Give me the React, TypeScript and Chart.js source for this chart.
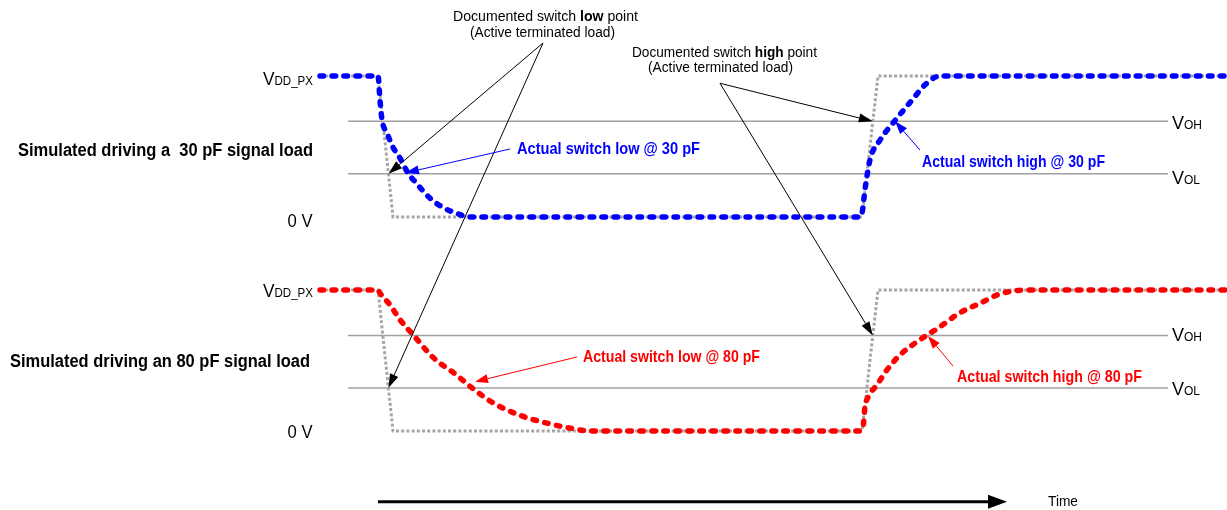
import React, { useEffect, useRef } from "react";
import { Chart, registerables } from "chart.js";

Chart.register(...registerables);

// ---- Voltage levels (V) ----
const VDD = 1.8;
const VOH = 1.22;
const VOL = 0.55;
const UPPER_OFFSET = 2.733; // vertical offset of the 30 pF panel on the shared axis

// ---- Documented (ideal) switching waveform ----
const DOC_T = [32, 37.8, 39.3, 86.2, 87.8, 122.7];
const DOC_V = [1.8, 1.8, 0, 0, 1.8, 1.8];

// ---- Simulated waveform, 30 pF load ----
const LOAD30_T = [32, 37.8, 38.0, 38.2, 38.7, 39.3, 40.0, 40.8, 41.5, 43.0, 44.3, 46.0, 46.7,
  85.9, 86.2, 86.5, 87.0, 88.0, 89.5, 91.0, 92.7, 94.0, 122.7];
const LOAD30_V = [1.8, 1.8, 1.49, 1.24, 1.07, 0.89, 0.75, 0.56, 0.45, 0.24, 0.12, 0.03, 0,
  0, 0.05, 0.35, 0.73, 0.98, 1.23, 1.46, 1.71, 1.8, 1.8];

// ---- Simulated waveform, 80 pF load ----
const LOAD80_T = [32, 37.8, 38.0, 39.0, 40.0, 41.3, 43.3, 45.7, 47.0, 49.3, 52.0, 54.7, 57.3, 59.0,
  85.9, 86.3, 86.5, 86.8, 87.7, 88.7, 90.0, 91.7, 94.0, 96.0, 98.0, 100.0, 102.7, 122.7];
const LOAD80_V = [1.8, 1.8, 1.76, 1.61, 1.42, 1.23, 0.94, 0.71, 0.57, 0.36, 0.20, 0.10, 0.03, 0,
  0, 0.05, 0.31, 0.43, 0.59, 0.78, 0.97, 1.14, 1.33, 1.51, 1.63, 1.75, 1.8, 1.8];

// ---- Threshold line extent (time) ----
const THRESH_T = [34.8, 116.8];

// ---- Time axis ----
const TIME_ARROW_T = [37.8, 100.7];

const FONT = '"Liberation Sans", Arial, sans-serif';

type Run = { text: string; size: number; bold?: boolean };
type Label = { t: number; v: number; align: "left" | "right" | "center"; width?: number; color: string; runs: Run[] };

const BLUE = "#0000ff";
const RED = "#ff0000";
const BLACK = "#000000";

const LABELS: Label[] = [
  { t: 31.3, v: 4.417, align: "right", width: 50, color: BLACK, runs: [{ text: "V", size: 18 }, { text: "DD_PX", size: 12 }] },
  { t: 31.3, v: 1.715, align: "right", width: 50, color: BLACK, runs: [{ text: "V", size: 18 }, { text: "DD_PX", size: 12 }] },
  { t: 31.25, v: 2.609, align: "right", width: 25, color: BLACK, runs: [{ text: "0 V", size: 18 }] },
  { t: 31.25, v: -0.093, align: "right", width: 25, color: BLACK, runs: [{ text: "0 V", size: 18 }] },
  { t: 117.2, v: 3.855, align: "left", width: 30, color: BLACK, runs: [{ text: "V", size: 18 }, { text: "OH", size: 12 }] },
  { t: 117.2, v: 3.153, align: "left", width: 28, color: BLACK, runs: [{ text: "V", size: 18 }, { text: "OL", size: 12 }] },
  { t: 117.2, v: 1.153, align: "left", width: 30, color: BLACK, runs: [{ text: "V", size: 18 }, { text: "OH", size: 12 }] },
  { t: 117.2, v: 0.46, align: "left", width: 28, color: BLACK, runs: [{ text: "V", size: 18 }, { text: "OL", size: 12 }] },
  { t: 31.3, v: 3.511, align: "right", width: 295, color: BLACK, runs: [{ text: "Simulated driving a  30 pF signal load", size: 18, bold: true }] },
  { t: 31.0, v: 0.813, align: "right", width: 300, color: BLACK, runs: [{ text: "Simulated driving an 80 pF signal load", size: 18, bold: true }] },
  { t: 54.55, v: 5.238, align: "center", width: 185, color: BLACK, runs: [{ text: "Documented switch ", size: 14 }, { text: "low", size: 14, bold: true }, { text: " point", size: 14 }] },
  { t: 54.25, v: 5.024, align: "center", width: 145, color: BLACK, runs: [{ text: "(Active terminated load)", size: 14 }] },
  { t: 72.45, v: 4.771, align: "center", width: 185, color: BLACK, runs: [{ text: "Documented switch ", size: 14 }, { text: "high", size: 14, bold: true }, { text: " point", size: 14 }] },
  { t: 72.05, v: 4.577, align: "center", width: 145, color: BLACK, runs: [{ text: "(Active terminated load)", size: 14 }] },
  { t: 51.7, v: 3.536, align: "left", width: 183, color: BLUE, runs: [{ text: "Actual switch low @ 30 pF", size: 17, bold: true }] },
  { t: 92.2, v: 3.366, align: "left", width: 183, color: BLUE, runs: [{ text: "Actual switch high @ 30 pF", size: 17, bold: true }] },
  { t: 58.3, v: 0.885, align: "left", width: 177, color: RED, runs: [{ text: "Actual switch low @ 80 pF", size: 17, bold: true }] },
  { t: 95.7, v: 0.629, align: "left", width: 185, color: RED, runs: [{ text: "Actual switch high @ 80 pF", size: 17, bold: true }] },
  { t: 104.8, v: -0.957, align: "left", width: 30, color: BLACK, runs: [{ text: "Time", size: 15 }] },
];

type Arrow = { from: [number, number]; to: [number, number]; color: string; lw: number; head: number; headW: number };

const ARROWS: Arrow[] = [
  { from: [54.3, 4.953], to: [38.84, VOL + UPPER_OFFSET], color: BLACK, lw: 1, head: 14, headW: 9 },
  { from: [54.3, 4.953], to: [38.84, VOL], color: BLACK, lw: 1, head: 14, headW: 9 },
  { from: [72.0, 4.439], to: [87.28, VOH + UPPER_OFFSET], color: BLACK, lw: 1, head: 14, headW: 9 },
  { from: [72.0, 4.439], to: [87.28, VOH], color: BLACK, lw: 1, head: 14, headW: 9 },
  { from: [51.0, 3.6], to: [40.5, 3.294], color: BLUE, lw: 1, head: 14, headW: 9 },
  { from: [92.0, 3.587], to: [89.5, VOH + UPPER_OFFSET], color: BLUE, lw: 1, head: 13, headW: 9 },
  { from: [57.7, 0.945], to: [47.5, 0.629], color: RED, lw: 1, head: 13, headW: 9 },
  { from: [95.3, 0.83], to: [92.8, 1.213], color: RED, lw: 1, head: 13, headW: 9 },
  { from: [TIME_ARROW_T[0], -0.903], to: [TIME_ARROW_T[1], -0.903], color: BLACK, lw: 3, head: 19, headW: 14 },
];

const pts = (ts: number[], vs: number[], off: number) => ts.map((t, i) => ({ x: t, y: vs[i] + off }));

function fontOf(r: Run) {
  return `${r.bold ? "bold " : ""}${r.size}px ${FONT}`;
}

function drawLabel(ctx: CanvasRenderingContext2D, x: number, y: number, l: Label) {
  ctx.save();
  let natural = 0;
  const ws: number[] = [];
  for (const r of l.runs) {
    ctx.font = fontOf(r);
    const w = ctx.measureText(r.text).width;
    ws.push(w);
    natural += w;
  }
  const sx = l.width ? l.width / natural : 1;
  const total = natural * sx;
  const x0 = l.align === "left" ? x : l.align === "right" ? x - total : x - total / 2;
  ctx.translate(x0, y);
  ctx.scale(sx, 1);
  ctx.fillStyle = l.color;
  ctx.textAlign = "left";
  ctx.textBaseline = "alphabetic";
  let cx = 0;
  l.runs.forEach((r, i) => {
    ctx.font = fontOf(r);
    ctx.fillText(r.text, cx, 0);
    cx += ws[i];
  });
  ctx.restore();
}

function drawArrow(ctx: CanvasRenderingContext2D, x1: number, y1: number, x2: number, y2: number, a: Arrow) {
  const ang = Math.atan2(y2 - y1, x2 - x1);
  const bx = x2 - a.head * Math.cos(ang);
  const by = y2 - a.head * Math.sin(ang);
  ctx.save();
  ctx.strokeStyle = a.color;
  ctx.fillStyle = a.color;
  ctx.lineWidth = a.lw;
  ctx.setLineDash([]);
  ctx.beginPath();
  ctx.moveTo(x1, y1);
  ctx.lineTo(bx, by);
  ctx.stroke();
  const px = -Math.sin(ang) * (a.headW / 2);
  const py = Math.cos(ang) * (a.headW / 2);
  ctx.beginPath();
  ctx.moveTo(x2, y2);
  ctx.lineTo(bx + px, by + py);
  ctx.lineTo(bx - px, by - py);
  ctx.closePath();
  ctx.fill();
  ctx.restore();
}

const annotationPlugin = {
  id: "annotations",
  afterDatasetsDraw(chart: any) {
    const ctx: CanvasRenderingContext2D = chart.ctx;
    const xs = chart.scales.x;
    const ys = chart.scales.y;
    for (const a of ARROWS) {
      drawArrow(
        ctx,
        xs.getPixelForValue(a.from[0]),
        ys.getPixelForValue(a.from[1]),
        xs.getPixelForValue(a.to[0]),
        ys.getPixelForValue(a.to[1]),
        a
      );
    }
    for (const l of LABELS) {
      drawLabel(ctx, xs.getPixelForValue(l.t), ys.getPixelForValue(l.v), l);
    }
  },
};

export default function App() {
  const ref = useRef<HTMLCanvasElement | null>(null);

  useEffect(() => {
    if (!ref.current) return;
    const threshStyle = {
      borderColor: "#a0a0a0",
      borderWidth: 1.5,
      pointRadius: 0,
      tension: 0,
      order: 3,
      clip: false as any,
    };
    const docStyle = {
      borderColor: "#a6a6a6",
      borderWidth: 3,
      borderDash: [3, 2.2],
      pointRadius: 0,
      tension: 0,
      order: 2,
      clip: false as any,
    };
    const simStyle = (color: string) => ({
      borderColor: color,
      borderWidth: 5.5,
      borderDash: [3.5, 8.5],
      borderCapStyle: "round" as const,
      borderJoinStyle: "round" as const,
      pointRadius: 0,
      cubicInterpolationMode: "monotone" as const,
      order: 1,
      clip: false as any,
    });
    const thresh = (v: number, off: number) => THRESH_T.map((t) => ({ x: t, y: v + off }));

    const chart = new Chart(ref.current, {
      type: "line",
      data: {
        datasets: [
          { label: "Actual 30 pF", data: pts(LOAD30_T, LOAD30_V, UPPER_OFFSET), ...simStyle(BLUE) },
          { label: "Actual 80 pF", data: pts(LOAD80_T, LOAD80_V, 0), ...simStyle(RED) },
          { label: "Documented (30 pF panel)", data: pts(DOC_T, DOC_V, UPPER_OFFSET), ...docStyle },
          { label: "Documented (80 pF panel)", data: pts(DOC_T, DOC_V, 0), ...docStyle },
          { label: "VOH upper", data: thresh(VOH, UPPER_OFFSET), ...threshStyle },
          { label: "VOL upper", data: thresh(VOL, UPPER_OFFSET), ...threshStyle },
          { label: "VOH lower", data: thresh(VOH, 0), ...threshStyle },
          { label: "VOL lower", data: thresh(VOL, 0), ...threshStyle },
        ] as any,
      },
      options: {
        animation: false,
        responsive: false,
        devicePixelRatio: 1,
        layout: { padding: 0 },
        events: [],
        plugins: {
          legend: { display: false },
          tooltip: { enabled: false },
          title: { display: false },
        },
        scales: {
          x: { type: "linear", min: 0, max: 122.7, display: false },
          y: { type: "linear", min: -1.00851, max: 5.50213, display: false },
        },
      },
      plugins: [annotationPlugin],
    });
    return () => chart.destroy();
  }, []);

  return (
    <div style={{ position: "absolute", left: 0, top: 0, width: 1227, height: 510, background: "#ffffff" }}>
      <canvas ref={ref} width={1227} height={510} style={{ width: 1227, height: 510, display: "block" }} />
    </div>
  );
}
